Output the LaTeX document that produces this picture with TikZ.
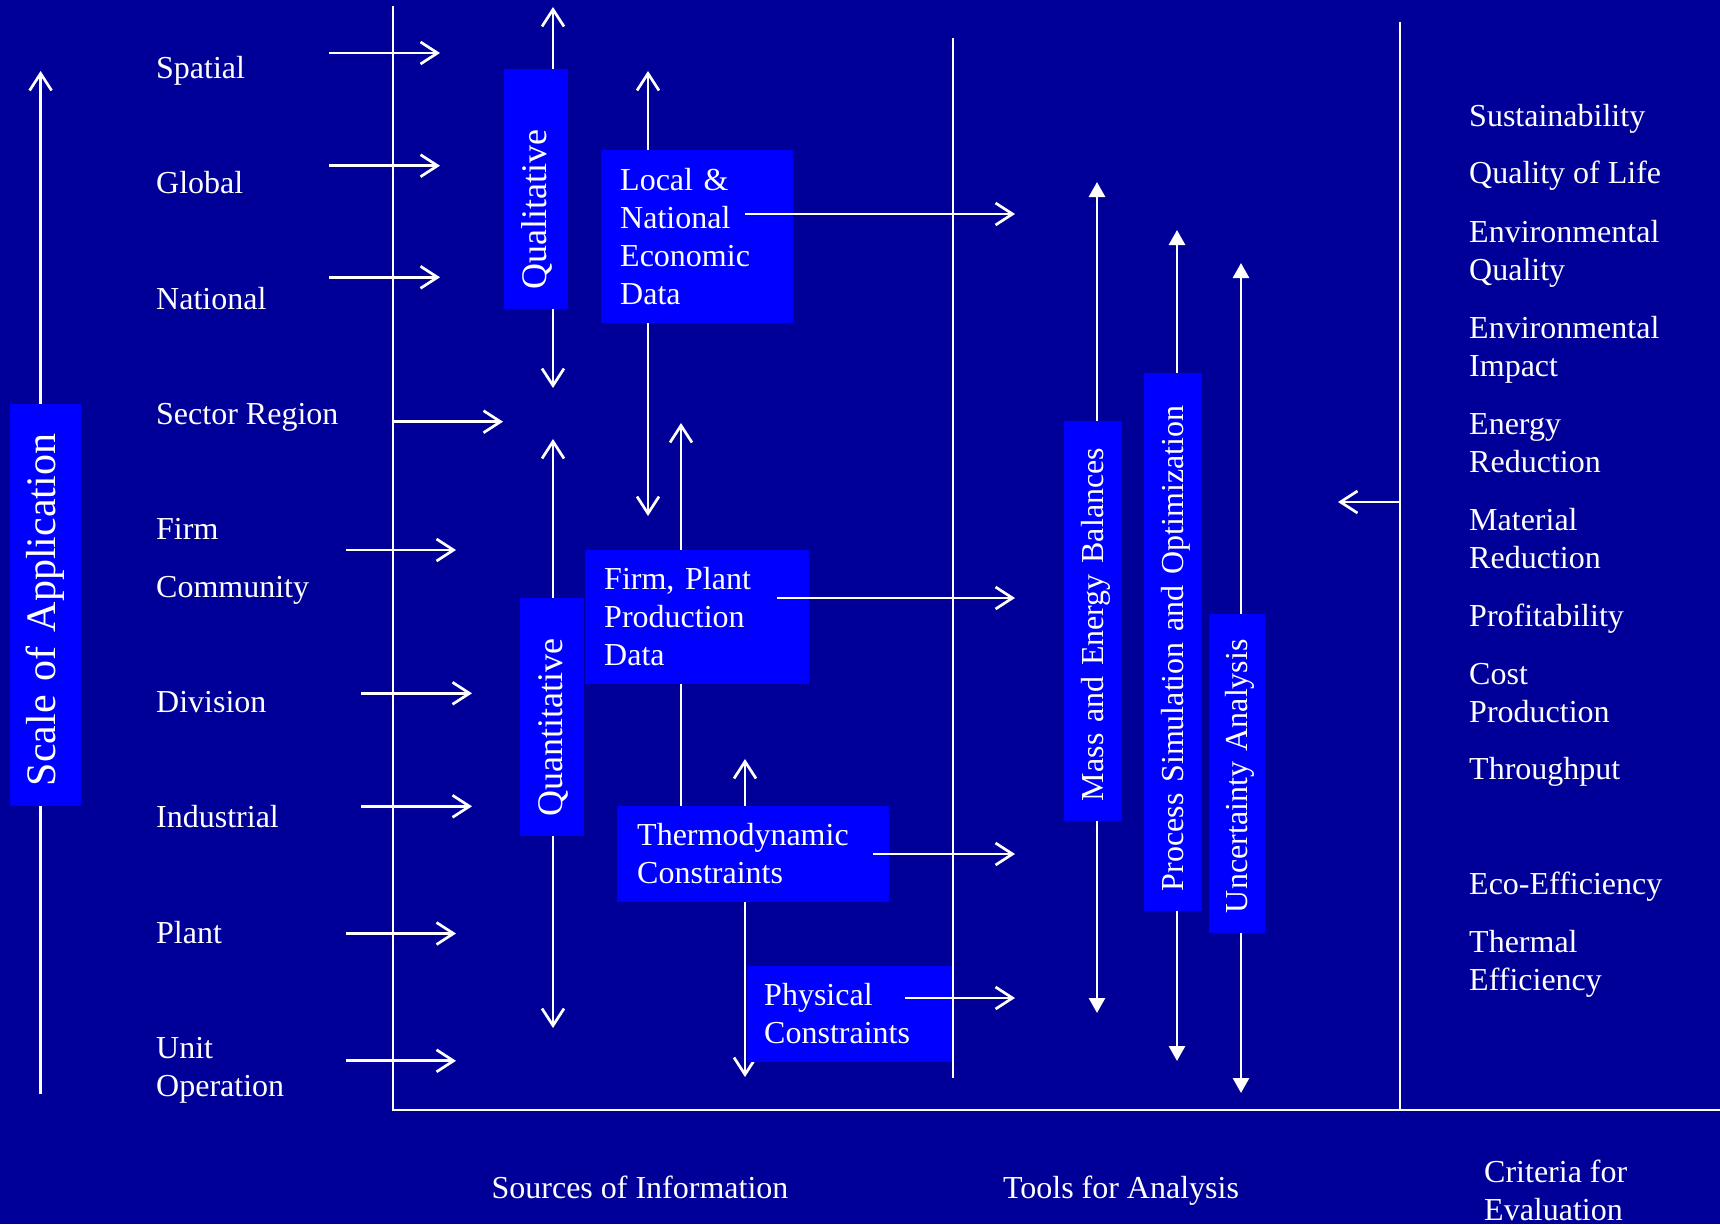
\documentclass[tikz,border=0pt]{standalone}
\usepackage{fontspec}
\setmainfont{Liberation Serif}
\usetikzlibrary{arrows.meta}
\definecolor{bgblue}{RGB}{0,0,153}
\definecolor{boxblue}{RGB}{0,0,255}
% line strut: every text line gets the same height and depth
\newcommand\lstrut{\rule[-8.4pt]{0pt}{38pt}}
\begin{document}
\begin{tikzpicture}[x=1pt,y=-1pt,
  ln/.style={draw=white, line width=2.7pt},
  barb/.style={ln, -{Straight Barb[length=17pt,width=22pt]}},
  dbarb/.style={ln, {Straight Barb[length=17pt,width=22pt]}-{Straight Barb[length=17pt,width=22pt]}},
  dtri/.style={ln, {Triangle[length=15pt,width=16pt]}-{Triangle[length=15pt,width=16pt]}},
  lbl/.style={text=white, inner sep=0pt, anchor=west, align=left, font=\fontsize{32}{38}\selectfont},
  clbl/.style={lbl, anchor=center, align=center},
  vbox/.style={fill=boxblue, text=white, rotate=90, inner xsep=20pt, inner ysep=0pt,
    align=left, anchor=center, font=\fontsize{32}{38}\selectfont},
  hbox/.style={fill=boxblue, text=white, inner ysep=0pt, anchor=north west,
    align=left, font=\fontsize{32}{38}\selectfont},
]
% canvas
\fill[bgblue] (0,0) rectangle (1720,1224);
\useasboundingbox (0,0) rectangle (1720,1224);
\clip (0,0) rectangle (1720,1224);

% ---------- scale of application axis ----------
\coordinate (sa0) at (40.6,1094);
\coordinate (sa1) at (40.6,71);
\draw[barb] (sa0) -- (sa1);
\node[vbox, font=\fontsize{42}{50}\selectfont, text width=362pt, minimum height=71pt]
  (scale) at (45.5,605) {\lstrut Scale of Application};

% ---------- scale labels ----------
\node[lbl] (lSpatial)  at (156,68)    {\lstrut Spatial};
\node[lbl] (lGlobal)   at (156,183.2) {\lstrut Global};
\node[lbl] (lNational) at (156,298.4) {\lstrut National};
\node[lbl] (lSector)   at (156,413.6) {\lstrut Sector Region};
\node[lbl] (lFirm)     at (156,528.8) {\lstrut Firm};
\node[lbl] (lCommun)   at (156,586.9) {\lstrut Community};
\node[lbl] (lDivision) at (156,702)   {\lstrut Division};
\node[lbl] (lIndust)   at (156,817.3) {\lstrut Industrial};
\node[lbl] (lPlant)    at (156,932.5) {\lstrut Plant};
\node[lbl] (lUnit)     at (156,1066.8) {\lstrut Unit\\\lstrut Operation};

% ---------- arrows from the scales ----------
\coordinate (aS0) at (329,53);    \coordinate (aS1) at (440,53);
\coordinate (aG0) at (329,165.7); \coordinate (aG1) at (440,165.7);
\coordinate (aN0) at (329,277.3); \coordinate (aN1) at (440,277.3);
\coordinate (aR0) at (393,421.7); \coordinate (aR1) at (503,421.7);
\coordinate (aF0) at (346,550);   \coordinate (aF1) at (456,550);
\coordinate (aD0) at (361,693.3); \coordinate (aD1) at (472,693.3);
\coordinate (aI0) at (361,806.3); \coordinate (aI1) at (472,806.3);
\coordinate (aP0) at (346,933.5); \coordinate (aP1) at (456,933.5);
\coordinate (aU0) at (346,1060.8);\coordinate (aU1) at (456,1060.8);
\foreach \k in {S,G,N,R,F,D,I,P,U} \draw[barb] (a\k0) -- (a\k1);

% ---------- arrows running behind the boxes ----------
\coordinate (ql0) at (553,7);    \coordinate (ql1) at (553,388);
\coordinate (qn0) at (553,439);  \coordinate (qn1) at (553,1028);
\coordinate (lc0) at (648,71);   \coordinate (lc1) at (648,516);
\coordinate (fp0) at (681,806);  \coordinate (fp1) at (681,423);
\coordinate (th0) at (745,759);  \coordinate (th1) at (745,1077);
\coordinate (me0) at (1097,182); \coordinate (me1) at (1097,1013);
\coordinate (ps0) at (1177,230); \coordinate (ps1) at (1177,1061);
\coordinate (ua0) at (1241,263); \coordinate (ua1) at (1241,1093);
\draw[dbarb] (ql0) -- (ql1);
\draw[dbarb] (qn0) -- (qn1);
\draw[dbarb] (lc0) -- (lc1);
\draw[barb]  (fp0) -- (fp1);
\draw[dbarb] (th0) -- (th1);
\draw[dtri]  (me0) -- (me1);
\draw[dtri]  (ps0) -- (ps1);
\draw[dtri]  (ua0) -- (ua1);

% ---------- sources of information ----------
\node[vbox, font=\fontsize{36}{43}\selectfont, text width=200pt, minimum height=64pt]
  (qual) at (536,189) {\lstrut Qualitative};
\node[vbox, font=\fontsize{36}{43}\selectfont, text width=198pt, minimum height=64pt]
  (quant) at (552,717) {\lstrut Quantitative};
\node[hbox, inner xsep=19pt, text width=154pt, minimum height=173pt]
  (local) at (601,150) {\lstrut Local \&\\\lstrut National\\\lstrut Economic\\\lstrut Data};
\node[hbox, inner xsep=19pt, text width=186pt, minimum height=134pt]
  (firm) at (585,550) {\lstrut Firm, Plant\\\lstrut Production\\\lstrut Data};
\node[hbox, inner xsep=20pt, text width=232pt, minimum height=96pt]
  (thermo) at (617,806) {\lstrut Thermodynamic\\\lstrut Constraints};
\node[hbox, inner xsep=17pt, text width=172pt, minimum height=96pt]
  (phys) at (747,966) {\lstrut Physical\\\lstrut Constraints};

% ---------- tools for analysis ----------
\node[vbox, text width=360pt, minimum height=58pt]
  (mass) at (1093,621) {\lstrut Mass and Energy Balances};
\node[vbox, text width=498pt, minimum height=58pt]
  (procsim) at (1173,642) {\lstrut Process Simulation and Optimization};
\node[vbox, text width=279pt, minimum height=56pt]
  (uncert) at (1237,773.5) {\lstrut Uncertainty Analysis};

% ---------- data fed to the tools ----------
\coordinate (dl0) at (745,214);  \coordinate (dl1) at (1015,214);
\coordinate (df0) at (777,598);  \coordinate (df1) at (1015,598);
\coordinate (dt0) at (873,854);  \coordinate (dt1) at (1015,854);
\coordinate (dp0) at (905,998);  \coordinate (dp1) at (1015,998);
\draw[barb] (dl0) -- (dl1);
\draw[barb] (df0) -- (df1);
\draw[barb] (dt0) -- (dt1);
\draw[barb] (dp0) -- (dp1);

% ---------- frame lines ----------
\coordinate (srcTop) at (393,6);
\coordinate (origin) at (393,1110);
\coordinate (baseEnd) at (1720,1110);
\coordinate (toolTop) at (953,38);
\coordinate (toolBot) at (953,1078);
\coordinate (critTop) at (1400,22);
\coordinate (critBot) at (1400,1110);
\coordinate (crA0) at (1400,502);
\coordinate (crA1) at (1338,502);
\draw[ln] (srcTop) -- (origin) -- (baseEnd);
\draw[ln] (toolTop) -- (toolBot);
\draw[ln] (critTop) -- (critBot);
\draw[barb] (crA0) -- (crA1);

% ---------- criteria ----------
\node[lbl] (cSust)   at (1469,116.3) {\lstrut Sustainability};
\node[lbl] (cQoL)    at (1469,173.3) {\lstrut Quality of Life};
\node[lbl] (cEnvQ)   at (1469,250.7) {\lstrut Environmental\\\lstrut Quality};
\node[lbl] (cEnvI)   at (1469,347.2) {\lstrut Environmental\\\lstrut Impact};
\node[lbl] (cEnergy) at (1469,443.2) {\lstrut Energy\\\lstrut Reduction};
\node[lbl] (cMat)    at (1469,538.6) {\lstrut Material\\\lstrut Reduction};
\node[lbl] (cProf)   at (1469,615.4) {\lstrut Profitability};
\node[lbl] (cCost)   at (1469,692.8) {\lstrut Cost\\\lstrut Production};
\node[lbl] (cThru)   at (1469,769)   {\lstrut Throughput};
\node[lbl] (cEco)    at (1469,884.2) {\lstrut Eco-Efficiency};
\node[lbl] (cTherm)  at (1469,961)   {\lstrut Thermal\\\lstrut Efficiency};

% ---------- column titles ----------
\node[clbl] (tSrc)  at (640,1188)  {\lstrut Sources of Information};
\node[clbl] (tTool) at (1121,1188) {\lstrut Tools for Analysis};
\node[lbl]  (tCrit) at (1484,1191) {\lstrut Criteria for\\\lstrut Evaluation};
\end{tikzpicture}
\end{document}
